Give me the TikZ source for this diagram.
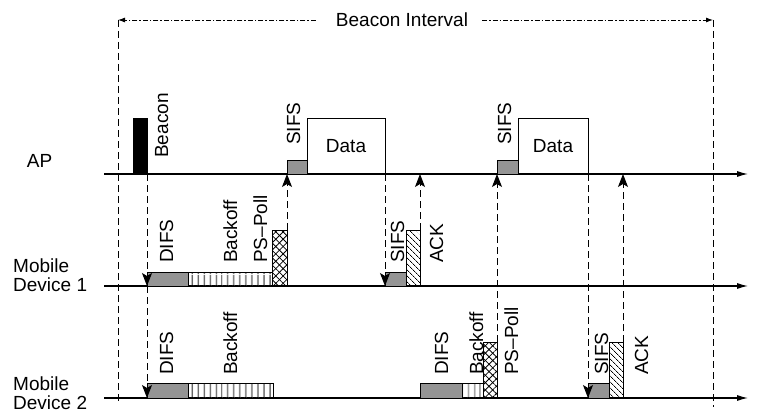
\documentclass[tikz,border=0pt]{standalone}
\usepackage{fontspec}
\setmainfont{Liberation Sans}
\usetikzlibrary{arrows.meta,patterns.meta}
\begin{document}
\begin{tikzpicture}[x=1pt,y=-1pt,
  lbl/.style={font=\fontsize{19}{20}\selectfont, inner sep=0pt},
  vlbl/.style={lbl, rotate=90, anchor=base west},
  box/.style={draw, line width=0.9pt, inner sep=0pt, outer sep=0pt, anchor=south west},
  gbox/.style={box, fill=black!42},
  bobox/.style={box, pattern={Lines[angle=90,distance=6.4pt,line width=1pt]}},
  xbox/.style={box, pattern={Lines[angle=45,distance=5.2pt,line width=0.8pt]},
     postaction={pattern={Lines[angle=-45,distance=5.2pt,line width=0.8pt]}}},
  hbox/.style={box, pattern={Lines[angle=-45,distance=4pt,line width=0.8pt]}},
  axis/.style={line width=1.1pt, -{Latex[length=11pt,width=6pt]}},
  dsh/.style={line width=1pt, dash pattern=on 7pt off 4pt},
  darr/.style={dsh, -{Stealth[length=13pt,width=10pt,inset=3pt]}},
  biarr/.style={line width=0.9pt, dash pattern=on 5pt off 2pt on 1.5pt off 2pt, -{Latex[length=7pt,width=5pt]}},
]
\useasboundingbox (0,0) rectangle (769,412);

% time axes
\coordinate (ap0) at (104,174); \coordinate (ap1) at (748,174);
\coordinate (m10) at (104,286); \coordinate (m11) at (748,286);
\coordinate (m20) at (104,398); \coordinate (m21) at (748,398);
\draw[axis] (ap0) -- (ap1);
\draw[axis] (m10) -- (m11);
\draw[axis] (m20) -- (m21);

% beacon interval
\coordinate (bl0) at (118,20); \coordinate (bl1) at (118,404);
\coordinate (br0) at (713,20); \coordinate (br1) at (713,407);
\draw[dsh] (bl0) -- (bl1);
\draw[dsh] (br0) -- (br1);
\node[lbl] (bi) at (402,20) {Beacon Interval};
\draw[biarr] ([xshift=-20pt]bi.west) -- (bl0);
\draw[biarr] ([xshift=14pt]bi.east) -- (br0);

% row labels
\node[lbl, anchor=base] (aplbl) at (39.5,167) {AP};
\node[lbl, anchor=base west] (m1l1) at (13,272) {Mobile};
\node[lbl, anchor=base west] (m1l2) at (13,291) {Device 1};
\node[lbl, anchor=base west] (m2l1) at (13,390) {Mobile};
\node[lbl, anchor=base west] (m2l2) at (13,409) {Device 2};

% AP frames
\node[box, fill=black, minimum width=14pt, minimum height=56pt] (bcn) at (133,174) {};
\node[gbox, minimum width=20pt, minimum height=14pt] (aps1) at (287,174) {};
\node[box, lbl, minimum width=78pt, minimum height=56pt] (data1) at (307,174) {Data};
\node[gbox, minimum width=21pt, minimum height=14pt] (aps2) at (497,174) {};
\node[box, lbl, minimum width=70pt, minimum height=56pt] (data2) at (518,174) {Data};

% Mobile Device 1 frames
\node[gbox, minimum width=41pt, minimum height=14pt] (m1difs) at (147,286) {};
\node[bobox, minimum width=84pt, minimum height=14pt] (m1bo) at (188,286) {};
\node[xbox, minimum width=15pt, minimum height=56pt] (m1ps) at (272,286) {};
\node[gbox, minimum width=21pt, minimum height=14pt] (m1sifs) at (385,286) {};
\node[hbox, minimum width=14pt, minimum height=56pt] (m1ack) at (406,286) {};

% Mobile Device 2 frames
\node[gbox, minimum width=41pt, minimum height=15pt] (m2difs) at (147,398) {};
\node[bobox, minimum width=85pt, minimum height=15pt] (m2bo) at (188,398) {};
\node[gbox, minimum width=42pt, minimum height=15pt] (m2difs2) at (420,398) {};
\node[bobox, minimum width=21pt, minimum height=15pt] (m2bo2) at (462,398) {};
\node[xbox, minimum width=14pt, minimum height=56pt] (m2ps) at (483,398) {};
\node[gbox, minimum width=21pt, minimum height=15pt] (m2sifs) at (588,398) {};
\node[hbox, minimum width=14pt, minimum height=56pt] (m2ack) at (609,398) {};

% rotated labels
\node[vlbl] (tbcn) at (168,158) {Beacon};
\node[vlbl] (tsifs1) at (300,145) {SIFS};
\node[vlbl] (tsifs2) at (511,145) {SIFS};
\node[vlbl] (t1difs) at (173,263) {DIFS};
\node[vlbl] (t1bo) at (237,263) {Backoff};
\node[vlbl] (t1ps) at (267,263) {PS--Poll};
\node[vlbl] (t1sifs) at (404,263) {SIFS};
\node[vlbl] (t1ack) at (443,263) {ACK};
\node[vlbl] (t2difs) at (173,375) {DIFS};
\node[vlbl] (t2bo) at (237,375) {Backoff};
\node[vlbl] (t2difs2) at (448,375) {DIFS};
\node[vlbl] (t2bo2) at (483,375) {Backoff};
\node[vlbl] (t2ps) at (518,375) {PS--Poll};
\node[vlbl] (t2sifs) at (608,375) {SIFS};
\node[vlbl] (t2ack) at (648,375) {ACK};

% dashed arrows
\draw[darr] (bcn.south east) -- (m1difs.south west);
\draw[darr] (m1difs.south west) -- (m2difs.south west);
\draw[darr] (m1ps.north east) -- (aps1.south west);
\draw[darr] (data1.south east) -- (m1sifs.south west);
\draw[darr] (m1ack.north east) -- (m1ack.north east |- ap0);
\draw[darr] (m2ps.north east) -- (aps2.south west);
\draw[darr] (data2.south east) -- (m2sifs.south west);
\draw[darr] (m2ack.north east) -- (m2ack.north east |- ap0);
\end{tikzpicture}
\end{document}
